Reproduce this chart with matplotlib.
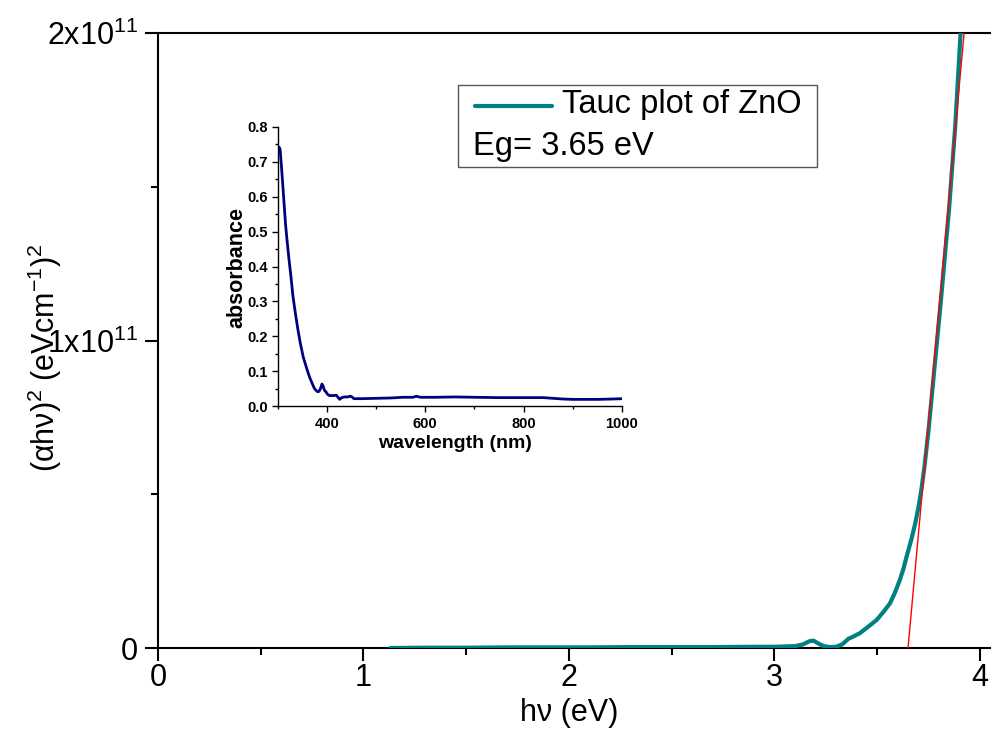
import numpy as np
import matplotlib
matplotlib.use("Agg")
import matplotlib.pyplot as plt
from matplotlib.lines import Line2D
from matplotlib.patches import Rectangle
from matplotlib.ticker import MultipleLocator, FixedLocator, FuncFormatter

plt.rcParams['font.family'] = ['Liberation Sans', 'DejaVu Sans']
plt.rcParams['mathtext.fontset'] = 'custom'
plt.rcParams['mathtext.rm'] = 'Liberation Sans'
plt.rcParams['mathtext.it'] = 'Liberation Sans:italic'
plt.rcParams['mathtext.bf'] = 'Liberation Sans:bold'
plt.rcParams['mathtext.default'] = 'regular'

# Tauc plot: photon energy (eV) vs (alpha h nu)^2 in units of 1e11
hv = [1.13, 1.30, 1.50, 1.70, 1.90, 2.10, 2.30, 2.50, 2.70, 2.90, 3.00,
      3.05, 3.10, 3.14, 3.17, 3.19, 3.21, 3.24, 3.27, 3.30, 3.33, 3.35,
      3.36, 3.38, 3.415, 3.45, 3.497, 3.53, 3.562, 3.585, 3.61, 3.627,
      3.643, 3.667, 3.685, 3.70, 3.715, 3.73, 3.75, 3.77, 3.79, 3.81,
      3.85, 3.88, 3.91]
ahv2 = [0.000, 0.001, 0.001, 0.002, 0.002, 0.002, 0.003, 0.003, 0.003,
        0.004, 0.004, 0.005, 0.006, 0.012, 0.022, 0.024, 0.016, 0.006,
        0.003, 0.004, 0.012, 0.024, 0.030, 0.036, 0.048, 0.066, 0.091,
        0.117, 0.145, 0.178, 0.221, 0.256, 0.297, 0.355, 0.405, 0.455,
        0.515, 0.59, 0.71, 0.85, 0.99, 1.13, 1.43, 1.70, 2.05]
scale = 1e11

# Linear fit of the absorption edge
Eg = 3.65
fit_slope = 7.33  # (1e11 units) per eV

# UV-Vis absorbance spectrum
wavelength = [301, 303, 305, 308, 312, 316, 319, 323, 327, 331, 336, 341,
              346, 352, 360, 365, 370, 374, 377, 381, 384, 387, 390, 392,
              395, 398, 401, 405, 410, 415, 419, 422, 426, 430, 436, 442,
              448, 451, 455, 470, 500, 530, 555, 575, 582, 590, 620, 660,
              700, 750, 800, 840, 860, 880, 900, 950, 980, 1000]
absorbance = [0.735, 0.742, 0.735, 0.68, 0.60, 0.52, 0.475, 0.42, 0.37,
              0.315, 0.265, 0.22, 0.18, 0.14, 0.103, 0.082, 0.065, 0.052,
              0.046, 0.041, 0.042, 0.050, 0.063, 0.058, 0.045, 0.041, 0.034,
              0.030, 0.030, 0.030, 0.031, 0.026, 0.019, 0.024, 0.026, 0.026,
              0.028, 0.026, 0.021, 0.021, 0.022, 0.023, 0.025, 0.025, 0.028,
              0.025, 0.025, 0.026, 0.025, 0.024, 0.024, 0.024, 0.022, 0.020,
              0.019, 0.019, 0.020, 0.021]

W, H = 991, 738
fig = plt.figure(figsize=(W / 100, H / 100), dpi=100)


def fx(px):
    return px / W


def fy(py):
    return 1 - py / H


# ---- main Tauc axes ----
ax = fig.add_axes([fx(158), fy(648), fx(842.5), 615 / H])
teal = '#008080'
ax.plot(np.array(hv), np.array(ahv2) * scale, color=teal, lw=3.0,
        solid_capstyle='round', solid_joinstyle='round', zorder=3)
xfit = np.array([Eg, 4.05])
ax.plot(xfit, fit_slope * (xfit - Eg) * scale, color='red', lw=1.0, zorder=4)

ax.set_xlim(0, 4.1)
ax.set_ylim(0, 2e11)
ax.spines['right'].set_visible(False)
for s in ('left', 'bottom', 'top'):
    ax.spines[s].set_linewidth(1.5)

ax.xaxis.set_major_locator(MultipleLocator(1))
ax.xaxis.set_minor_locator(MultipleLocator(0.5))
ax.yaxis.set_major_locator(FixedLocator([0, 1e11, 2e11]))
ax.yaxis.set_minor_locator(FixedLocator([0.5e11, 1.5e11]))


def yfmt(v, pos):
    if v == 0:
        return '0'
    return r'%dx10$^{11}$' % round(v / 1e11)


ax.yaxis.set_major_formatter(FuncFormatter(yfmt))
ax.tick_params(which='major', direction='out', length=9.5, width=1.5,
               labelsize=22, top=False, right=False)
ax.tick_params(which='minor', direction='out', length=5, width=1.5,
               top=False, right=False)
ax.tick_params(axis='x', which='major', pad=1)
ax.tick_params(axis='y', which='major', pad=5)

ax.set_xlabel('h\u03bd (eV)', fontsize=22, va='center')
ax.xaxis.set_label_coords((569 - 158) / 842.5, (648 - 713) / 615)
ax.set_ylabel('(\u03b1h\u03bd)$^2$ (eVcm$^{-1}$)$^2$',
              fontsize=22, va='center')
ax.yaxis.set_label_coords((45 - 158) / 842.5, (648 - 358) / 615)

# ---- legend box ----
fig.add_artist(Rectangle((fx(458), fy(167)), fx(817 - 458), (167 - 85) / H,
                         transform=fig.transFigure, fill=False,
                         edgecolor='#555555', lw=1.0))
fig.add_artist(Line2D([fx(475), fx(552)], [fy(106), fy(106)],
                      transform=fig.transFigure, color=teal, lw=3.0,
                      solid_capstyle='round'))
fig.text(fx(562), fy(105), 'Tauc plot of ZnO', fontsize=23.5,
         ha='left', va='center')
fig.text(fx(473), fy(146), 'Eg= %.2f eV' % Eg, fontsize=23.5,
         ha='left', va='center')

# ---- inset absorbance axes ----
ins = fig.add_axes([fx(277.7), fy(406), fx(344.3), 279 / H])
ins.plot(wavelength, absorbance, color='#000080', lw=2.0)
ins.set_xlim(300, 1000)
ins.set_ylim(0, 0.8)
ins.spines['right'].set_visible(False)
ins.spines['top'].set_visible(False)
for s in ('left', 'bottom'):
    ins.spines[s].set_linewidth(1.0)
ins.xaxis.set_major_locator(MultipleLocator(200))
ins.xaxis.set_minor_locator(MultipleLocator(100))
ins.yaxis.set_major_locator(MultipleLocator(0.1))
ins.yaxis.set_minor_locator(MultipleLocator(0.05))
ins.yaxis.set_major_formatter(FuncFormatter(lambda v, p: '%.1f' % v))
ins.tick_params(which='major', direction='out', length=4, width=1.0,
                labelsize=10.5, pad=3)
ins.tick_params(which='minor', direction='out', length=2.5, width=1.0)
ins.tick_params(axis='x', which='major', pad=4)
for lab in ins.get_xticklabels() + ins.get_yticklabels():
    lab.set_fontweight('bold')
ins.set_xlabel('wavelength (nm)', fontsize=14, fontweight='bold', va='center')
ins.xaxis.set_label_coords(0.515, (406 - 443) / 279)
ins.set_ylabel('absorbance', fontsize=15.5, fontweight='bold', va='center')
ins.yaxis.set_label_coords((237 - 277.7) / 344.3, 0.498)

fig.savefig('out.png', dpi=100)
